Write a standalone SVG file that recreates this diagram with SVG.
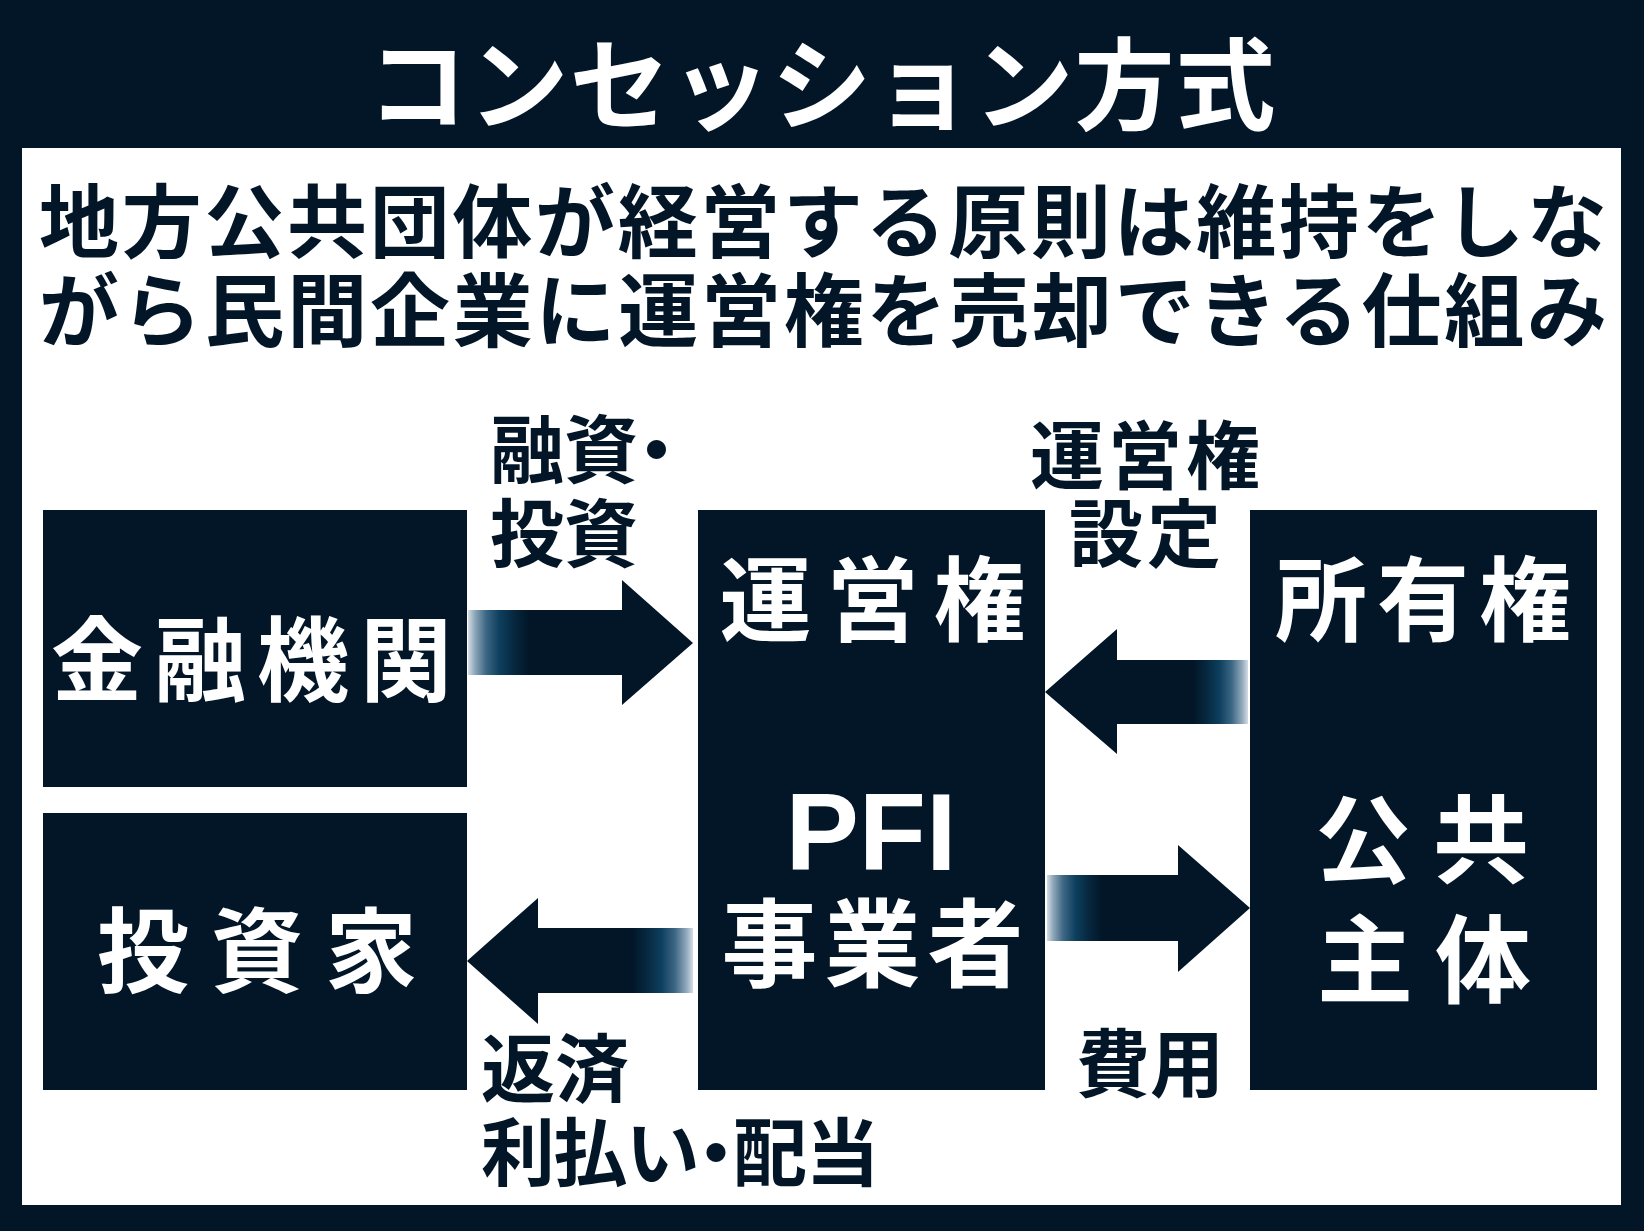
<svg xmlns="http://www.w3.org/2000/svg" width="1644" height="1231" viewBox="0 0 1644 1231">
<style>
.jp{font-family:"Noto Sans CJK JP","Noto Sans CJK SC",sans-serif;font-weight:700}
.w{fill:#ffffff}
.d{fill:#021628}
.box{fill:#021628}
.lbl{font-size:74px;fill:#021628;font-feature-settings:"palt"}
.big{font-size:92px;fill:#ffffff}
</style>
<defs>
<linearGradient id="gR" x1="0" y1="0" x2="1" y2="0">
<stop offset="0" stop-color="#d4dde5"/>
<stop offset="0.03" stop-color="#8fa7ba"/>
<stop offset="0.08" stop-color="#3d6784"/>
<stop offset="0.14" stop-color="#0d3f5e"/>
<stop offset="0.21" stop-color="#06263d"/>
<stop offset="0.27" stop-color="#021628"/>
<stop offset="1" stop-color="#021628"/>
</linearGradient>
<linearGradient id="gL" x1="1" y1="0" x2="0" y2="0">
<stop offset="0" stop-color="#d4dde5"/>
<stop offset="0.03" stop-color="#8fa7ba"/>
<stop offset="0.08" stop-color="#3d6784"/>
<stop offset="0.14" stop-color="#0d3f5e"/>
<stop offset="0.21" stop-color="#06263d"/>
<stop offset="0.27" stop-color="#021628"/>
<stop offset="1" stop-color="#021628"/>
</linearGradient>
</defs>
<rect x="0" y="0" width="1644" height="1231" fill="#021628"/>
<g id="title">
<text class="jp w" x="822" y="122" text-anchor="middle" font-size="100" font-weight="900" letter-spacing="1">コンセッション方式</text>
</g>
<rect x="22" y="148" width="1599" height="1057" fill="#ffffff"/>
<g id="subtitle" class="jp d" font-size="80">
<text x="39" y="251" textLength="1568" lengthAdjust="spacing">地方公共団体が経営する原則は維持をしな</text>
<text x="39" y="340" textLength="1568" lengthAdjust="spacing">がら民間企業に運営権を売却できる仕組み</text>
</g>
<g id="kinyu">
<rect class="box" x="43" y="510" width="424" height="277"/>
<text class="jp big" x="257" y="694" text-anchor="middle" letter-spacing="11">金融機関</text>
</g>
<g id="toushika">
<rect class="box" x="43" y="813" width="424" height="277"/>
<text class="jp big" x="268" y="985" text-anchor="middle" letter-spacing="22">投資家</text>
</g>
<g id="pfi">
<rect class="box" x="698" y="510" width="347" height="580"/>
<text class="jp big" x="880" y="634" text-anchor="middle" letter-spacing="15">運営権</text>
<text x="871" y="870" text-anchor="middle" font-family="'Liberation Sans',Arial,sans-serif" font-weight="700" font-size="110" fill="#ffffff">PFI</text>
<text class="jp w" x="876" y="979" text-anchor="middle" font-size="96" letter-spacing="7">事業者</text>
</g>
<g id="koukyou">
<rect class="box" x="1250" y="510" width="347" height="580"/>
<text class="jp big" x="1428" y="634" text-anchor="middle" letter-spacing="10">所有権</text>
<text class="jp w" x="1433" y="875" text-anchor="middle" font-size="96" letter-spacing="22">公共</text>
<text class="jp w" x="1435" y="995" text-anchor="middle" font-size="96" letter-spacing="22">主体</text>
</g>
<g id="connectors">
<polygon points="468,610 622,610 622,580 693,643 622,705 622,675 468,675" fill="url(#gR)"/>
<polygon points="1045,692 1117,629 1117,660 1248,660 1248,724 1117,724 1117,754" fill="url(#gL)"/>
<polygon points="467,961 538,898 538,928 693,928 693,993 538,993 538,1024" fill="url(#gL)"/>
<polygon points="1047,875 1178,875 1178,845 1250,908 1178,972 1178,941 1047,941" fill="url(#gR)"/>
</g>
<g id="labels" class="jp">
<text class="lbl" x="490" y="477">融資・</text>
<text class="lbl" x="490" y="561">投資</text>
<text class="lbl" x="1147" y="483" text-anchor="middle" letter-spacing="4">運営権</text>
<text class="lbl" x="1147" y="561" text-anchor="middle" letter-spacing="4">設定</text>
<text class="lbl" x="481" y="1096">返済</text>
<text class="lbl" x="481" y="1180" letter-spacing="-1.5">利払い・配当</text>
<text class="lbl" x="1150" y="1091" text-anchor="middle">費用</text>
</g>
</svg>
